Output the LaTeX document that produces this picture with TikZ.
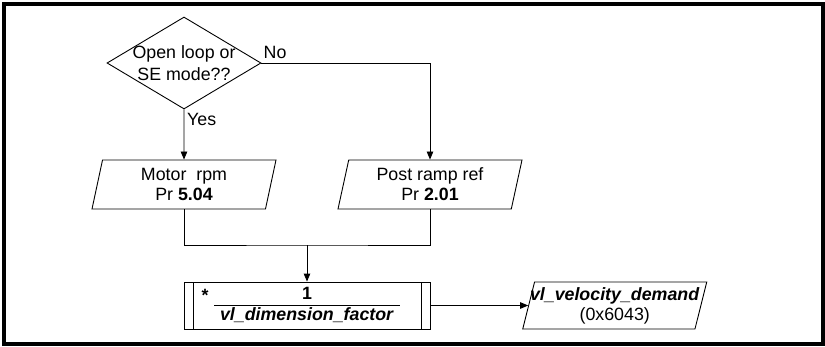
\documentclass[tikz,border=0pt]{standalone}
\usepackage{fontspec}
\setmainfont{Liberation Sans}
\usepackage{tikz}
\usetikzlibrary{arrows.meta,shapes.geometric}
\newcommand{\mainsize}{\fontsize{17.8}{20}\selectfont}
\setlength{\arrayrulewidth}{1pt}
\tikzset{
  decision/.style={diamond, draw, line width=0.9pt, aspect=1.674, inner xsep=-7pt, inner ysep=-4pt,
              minimum width=154pt, minimum height=92pt, align=center, font=\fontsize{17.8}{22}\selectfont},
  para/.style={trapezium, trapezium left angle=73, trapezium right angle=107, trapezium stretches body,
              draw, line width=0.9pt, minimum width=184pt, minimum height=49pt, inner sep=1pt, align=center},
  procbox/.style={draw, line width=0.9pt, minimum width=246pt, minimum height=47pt, inner sep=0pt,
              path picture={
                \draw[line width=0.9pt] ([xshift=9pt]path picture bounding box.north west) -- ([xshift=9pt]path picture bounding box.south west)
                      ([xshift=-9pt]path picture bounding box.north east) -- ([xshift=-9pt]path picture bounding box.south east);}},
  lbl/.style={inner sep=1pt},
  link/.style={line width=0.9pt},
  flow/.style={-{Triangle[length=8pt,width=6.5pt]}, line width=0.9pt},
}

\begin{document}
\begin{tikzpicture}[x=1pt, y=-1pt, font=\mainsize]
  \useasboundingbox (0,0) rectangle (825,346);
  \draw[line width=4.3pt] (4,4) rectangle (823,344);

  \node[decision] (mode) at (184,63) {Open loop or\\SE mode??};
  \node[lbl, anchor=south west, inner xsep=2pt, inner ysep=4pt] (no) at (mode.east) {No};
  \node[lbl, anchor=north west, inner xsep=3pt, inner ysep=4pt] (yes) at (mode.south) {Yes};

  \node[para] (rpm)  at (184,184.5) {Motor~~rpm\\Pr \textbf{5.04}};
  \node[para] (ramp) at (430,184.5) {Post ramp ref\\Pr \textbf{2.01}};

  \node[procbox] (scale) at (307,305.5) {\begin{tabular}{c}\textbf{1}\\ \hline \textbf{\textit{vl\_dimension\_factor}}\end{tabular}};
  \node[lbl, anchor=base, font=\mainsize\bfseries] (star) at (205,301) {*};
  \node[para, minimum height=47pt, inner xsep=-10pt] (vel) at (614.75,305.5) {\textbf{\textit{vl\_velocity\_demand}}\\(0x6043)};

  \coordinate (join) at (307,245);
  \draw[flow] (mode.south) -- (rpm.north);
  \draw[flow] (mode.east) -| (ramp.north);
  \draw[link] (rpm.south) |- (join) -| (ramp.south);
  \draw[flow] (join) -- (scale.north);
  \draw[flow] (scale.east) -- (vel.west);
\end{tikzpicture}
\end{document}
